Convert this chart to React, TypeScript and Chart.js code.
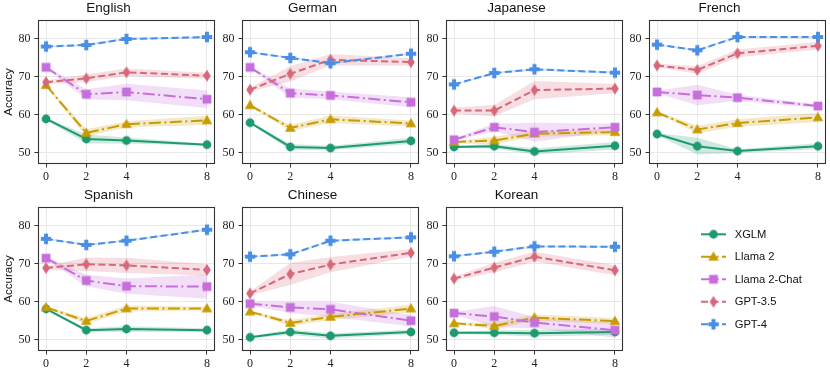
import React, { useEffect, useRef } from 'react';
import { Chart, registerables } from 'chart.js';

Chart.register(...registerables);

// ---------- data ----------
const LANGUAGES = ['English', 'German', 'Japanese', 'French', 'Spanish', 'Chinese', 'Korean'];
const SHOTS = [0, 2, 4, 8];
const Y_TICKS = [50, 60, 70, 80];
const MODELS = ['XGLM', 'Llama 2', 'Llama 2-Chat', 'GPT-3.5', 'GPT-4'];
const Y_LABEL = 'Accuracy';

// rows: languages in LANGUAGES order; columns: SHOTS
const XGLM = [
  [58.9, 53.6, 53.2, 52.1],
  [57.9, 51.5, 51.2, 53.1],
  [51.5, 51.7, 50.3, 51.8],
  [54.9, 51.7, 50.4, 51.7],
  [58.1, 52.5, 52.8, 52.5],
  [50.6, 52.0, 51.0, 52.0],
  [51.8, 51.8, 51.7, 52.0],
];
const XGLM_ERR = [
  [0.3, 1.2, 0.8, 0.3],
  [0.3, 0.8, 0.6, 0.8],
  [0.3, 0.6, 0.8, 1.0],
  [0.3, 2.2, 0.5, 0.8],
  [0.3, 0.5, 0.7, 0.5],
  [0.3, 0.7, 0.7, 0.6],
  [0.3, 0.6, 0.9, 0.8],
];

const LLAMA2 = [
  [67.8, 55.2, 57.5, 58.5],
  [62.5, 56.5, 58.8, 57.7],
  [52.8, 53.2, 55.0, 55.4],
  [60.6, 56.1, 57.8, 59.3],
  [58.5, 54.9, 58.2, 58.2],
  [57.4, 54.4, 56.0, 58.2],
  [54.3, 53.6, 55.8, 54.9],
];
const LLAMA2_ERR = [
  [0.3, 1.0, 0.8, 1.2],
  [0.3, 0.8, 1.0, 0.8],
  [0.3, 1.0, 0.8, 0.8],
  [0.3, 1.0, 1.0, 1.2],
  [0.3, 0.8, 0.8, 0.5],
  [0.3, 0.8, 0.8, 1.0],
  [0.3, 0.8, 0.8, 0.8],
];

const LLAMA2_CHAT = [
  [72.5, 65.4, 66.0, 64.1],
  [72.5, 65.7, 65.1, 63.3],
  [53.4, 56.7, 55.4, 56.7],
  [66.0, 65.2, 64.5, 62.3],
  [71.5, 65.6, 64.1, 64.0],
  [59.5, 58.5, 58.0, 55.0],
  [57.0, 56.1, 54.5, 52.5],
];
const LLAMA2_CHAT_ERR = [
  [0.3, 1.3, 2.2, 2.3],
  [0.3, 1.2, 1.0, 1.3],
  [0.3, 1.0, 2.5, 1.0],
  [0.3, 2.7, 0.8, 0.5],
  [0.3, 1.5, 2.0, 3.2],
  [0.5, 1.5, 2.0, 1.5],
  [0.3, 2.8, 1.5, 2.0],
];

const GPT35 = [
  [68.6, 69.6, 71.2, 70.3],
  [66.6, 70.8, 74.5, 73.9],
  [61.1, 61.1, 66.5, 66.9],
  [73.0, 71.8, 76.2, 78.2],
  [68.9, 69.9, 69.6, 68.4],
  [62.2, 67.3, 69.8, 72.9],
  [66.1, 69.0, 71.9, 68.3],
];
const GPT35_ERR = [
  [0.5, 1.0, 1.0, 0.8],
  [0.5, 2.0, 1.5, 1.0],
  [0.8, 1.5, 2.4, 1.2],
  [0.5, 1.0, 1.0, 1.0],
  [0.5, 1.8, 2.0, 1.5],
  [0.5, 2.9, 2.0, 1.0],
  [0.5, 1.3, 1.3, 1.3],
];

const GPT4 = [
  [78.0, 78.4, 80.0, 80.5],
  [76.5, 75.0, 73.6, 76.1],
  [68.0, 71.0, 72.0, 71.1],
  [78.5, 77.0, 80.5, 80.5],
  [76.6, 75.0, 76.1, 79.0],
  [71.9, 72.5, 76.1, 77.0],
  [72.0, 73.2, 74.6, 74.5],
];
const GPT4_ERR = [
  [0.2, 0.3, 0.3, 0.3],
  [0.2, 0.3, 0.3, 0.3],
  [0.2, 0.3, 0.3, 0.3],
  [0.2, 0.3, 0.3, 0.3],
  [0.2, 0.3, 0.3, 0.3],
  [0.2, 0.3, 0.3, 0.3],
  [0.2, 0.3, 0.3, 0.3],
];

const SERIES = [XGLM, LLAMA2, LLAMA2_CHAT, GPT35, GPT4];
const ERRORS = [XGLM_ERR, LLAMA2_ERR, LLAMA2_CHAT_ERR, GPT35_ERR, GPT4_ERR];

// ---------- styles / layout ----------
const STYLES = [
  { color: '#1f9a70', rgb: '31,154,112', dash: [] as number[], shape: 'circle' },
  { color: '#c89b00', rgb: '200,155,0', dash: [12, 3.5, 2, 3.5], shape: 'triangle' },
  { color: '#c66fdc', rgb: '198,111,220', dash: [12, 3.5, 2, 3.5], shape: 'square' },
  { color: '#d6687a', rgb: '214,104,122', dash: [7, 3.5], shape: 'diamond' },
  { color: '#4a8fe3', rgb: '74,143,227', dash: [7, 3.5], shape: 'plus' },
];
const FRAME = '#333333';
const GRID = '#e8e8e8';
const SERIF = '"Liberation Serif", "DejaVu Serif", serif';
const SANS = '"Liberation Sans", Arial, sans-serif';

const COL_LEFT = [38, 242, 446, 649];
const ROW_TOP = [20, 207];
const FRAME_W = 177;
const FRAME_H = 144;
const AXIS_W = 36;
const TITLE_H = 20;
const XAXIS_H = 20;
const RIGHT_PAD = AXIS_W; // symmetric so the title centres over the plot frame
const CW = AXIS_W + FRAME_W + RIGHT_PAD;
const CH = TITLE_H + FRAME_H + XAXIS_H;

const LEGEND_BOX = { left: 640, top: 200, width: 190, height: 150 };

function makeMarker(shape: string, color: string): HTMLCanvasElement {
  const c = document.createElement('canvas');
  c.width = 14;
  c.height = 14;
  const g = c.getContext('2d')!;
  g.fillStyle = color;
  const m = 7;
  g.beginPath();
  if (shape === 'circle') g.arc(m, m, 4.4, 0, Math.PI * 2);
  else if (shape === 'triangle') {
    g.moveTo(m, m - 5.5);
    g.lineTo(m + 5.3, m + 3.7);
    g.lineTo(m - 5.3, m + 3.7);
    g.closePath();
  } else if (shape === 'square') g.rect(m - 4.4, m - 4.4, 8.8, 8.8);
  else if (shape === 'diamond') {
    g.moveTo(m, m - 5.9);
    g.lineTo(m + 3.8, m);
    g.lineTo(m, m + 5.9);
    g.lineTo(m - 3.8, m);
    g.closePath();
  } else {
    const a = 5.2, t = 2;
    g.rect(m - t, m - a, 2 * t, 2 * a);
    g.rect(m - a, m - t, 2 * a, 2 * t);
  }
  g.fill();
  return c;
}

const framePlugin = {
  id: 'frame',
  afterDatasetsDraw(chart: any) {
    const { ctx, chartArea } = chart;
    const { left, top, right, bottom } = chartArea;
    ctx.save();
    ctx.strokeStyle = FRAME;
    ctx.lineWidth = 1.1;
    ctx.strokeRect(left + 0.5, top + 0.5, right - left - 1, bottom - top - 1);
    ctx.restore();
  },
};

function buildPanel(canvas: HTMLCanvasElement, li: number, markers: HTMLCanvasElement[]) {
  const col = li % 4;
  const lines: any[] = MODELS.map((name, m) => ({
    label: name,
    data: SHOTS.map((x, i) => ({ x, y: SERIES[m][li][i] })),
    borderColor: STYLES[m].color,
    backgroundColor: STYLES[m].color,
    borderWidth: 2,
    borderDash: STYLES[m].dash,
    borderCapStyle: 'butt',
    pointStyle: markers[m],
    pointRadius: 5,
    pointHoverRadius: 5,
    fill: false,
    tension: 0,
    order: 5 - m,
  }));
  const bands: any[] = [];
  MODELS.forEach((name, m) => {
    const lowerIndex = lines.length + bands.length;
    bands.push({
      label: name + ' low',
      data: SHOTS.map((x, i) => ({ x, y: SERIES[m][li][i] - ERRORS[m][li][i] })),
      borderColor: 'rgba(0,0,0,0)',
      borderWidth: 1,
      pointRadius: 0,
      fill: false,
      order: 20,
    });
    bands.push({
      label: name + ' high',
      data: SHOTS.map((x, i) => ({ x, y: SERIES[m][li][i] + ERRORS[m][li][i] })),
      borderColor: 'rgba(0,0,0,0)',
      backgroundColor: `rgba(${STYLES[m].rgb},0.22)`,
      borderWidth: 1,
      pointRadius: 0,
      fill: lowerIndex,
      order: 20,
    });
  });

  return new Chart(canvas, {
    type: 'line',
    data: { datasets: [...lines, ...bands] },
    plugins: [framePlugin],
    options: {
      responsive: false,
      animation: false,
      devicePixelRatio: 1,
      events: [],
      layout: { padding: { left: 0, right: RIGHT_PAD, top: 0, bottom: 0 }, autoPadding: false },
      plugins: {
        legend: { display: false },
        tooltip: { enabled: false },
        title: {
          display: true,
          text: LANGUAGES[li],
          color: '#111',
          font: { family: SANS, size: 13.5, weight: 'normal' },
          padding: { top: 0, bottom: TITLE_H - 13.5 * 1.2 },
        },
      },
      scales: {
        x: {
          type: 'linear',
          min: -0.4,
          max: 8.4,
          afterBuildTicks: (axis: any) => {
            axis.ticks = SHOTS.map((v) => ({ value: v }));
          },
          afterFit: (s: any) => {
            s.height = XAXIS_H;
          },
          grid: { color: GRID, lineWidth: 1, drawTicks: true, tickLength: 3.5, tickColor: FRAME },
          border: { display: false },
          ticks: {
            color: '#222',
            font: { family: SERIF, size: 12 },
            padding: 2,
            maxRotation: 0,
            autoSkip: false,
          },
        },
        y: {
          type: 'linear',
          min: 47,
          max: 85,
          afterBuildTicks: (axis: any) => {
            axis.ticks = Y_TICKS.map((v) => ({ value: v }));
          },
          afterFit: (s: any) => {
            s.width = AXIS_W;
          },
          grid: { color: GRID, lineWidth: 1, drawTicks: true, tickLength: 3.5, tickColor: FRAME },
          border: { display: false },
          ticks: {
            color: '#222',
            font: { family: SERIF, size: 12 },
            padding: 4,
            autoSkip: false,
          },
          title: {
            display: col === 0,
            text: Y_LABEL,
            color: '#111',
            font: { family: SANS, size: 11.5 },
            padding: { top: 0, bottom: 0 },
          },
        },
      },
    } as any,
  });
}

const legendPlugin = {
  id: 'customLegend',
  afterDraw(chart: any) {
    const ctx = chart.ctx as CanvasRenderingContext2D;
    const ds = chart.data.datasets;
    ctx.save();
    ds.forEach((d: any, i: number) => {
      const y = 34.3 + i * 22.5;
      ctx.strokeStyle = d.borderColor;
      ctx.lineWidth = 2;
      ctx.setLineDash(d.borderDash || []);
      ctx.beginPath();
      ctx.moveTo(61, y);
      ctx.lineTo(86, y);
      ctx.stroke();
      ctx.setLineDash([]);
      const mk = d.pointStyle as HTMLCanvasElement;
      ctx.drawImage(mk, 73.5 - mk.width / 2, y - mk.height / 2);
      ctx.fillStyle = '#111';
      ctx.font = `11.2px ${SANS}`;
      ctx.textBaseline = 'middle';
      ctx.textAlign = 'left';
      ctx.fillText(d.label, 94.7, y + 0.5);
    });
    ctx.restore();
  },
};

function buildLegend(canvas: HTMLCanvasElement, markers: HTMLCanvasElement[]) {
  return new Chart(canvas, {
    type: 'line',
    data: {
      datasets: MODELS.map((name, m) => ({
        label: name,
        data: [],
        borderColor: STYLES[m].color,
        borderDash: STYLES[m].dash,
        pointStyle: markers[m],
      })),
    },
    plugins: [legendPlugin],
    options: {
      responsive: false,
      animation: false,
      devicePixelRatio: 1,
      events: [],
      plugins: { legend: { display: false }, tooltip: { enabled: false }, title: { display: false } },
      scales: { x: { display: false }, y: { display: false } },
    } as any,
  });
}

export default function App() {
  const refs = useRef<(HTMLCanvasElement | null)[]>([]);
  const legendRef = useRef<HTMLCanvasElement | null>(null);

  useEffect(() => {
    const markers = STYLES.map((s) => makeMarker(s.shape, s.color));
    const charts: Chart[] = [];
    LANGUAGES.forEach((_, li) => {
      const c = refs.current[li];
      if (c) charts.push(buildPanel(c, li, markers));
    });
    if (legendRef.current) charts.push(buildLegend(legendRef.current, markers));
    return () => charts.forEach((c) => c.destroy());
  }, []);

  return (
    <div
      style={{
        position: 'absolute',
        left: 0,
        top: 0,
        width: 830,
        height: 374,
        background: '#fff',
        overflow: 'hidden',
      }}
    >
      {LANGUAGES.map((lang, li) => {
        const col = li % 4;
        const row = Math.floor(li / 4);
        return (
          <canvas
            key={lang}
            ref={(el) => {
              refs.current[li] = el;
            }}
            width={CW}
            height={CH}
            style={{
              position: 'absolute',
              left: COL_LEFT[col] - AXIS_W,
              top: ROW_TOP[row] - TITLE_H,
              width: CW,
              height: CH,
            }}
          />
        );
      })}
      <canvas
        ref={legendRef}
        width={LEGEND_BOX.width}
        height={LEGEND_BOX.height}
        style={{
          position: 'absolute',
          left: LEGEND_BOX.left,
          top: LEGEND_BOX.top,
          width: LEGEND_BOX.width,
          height: LEGEND_BOX.height,
        }}
      />
    </div>
  );
}
